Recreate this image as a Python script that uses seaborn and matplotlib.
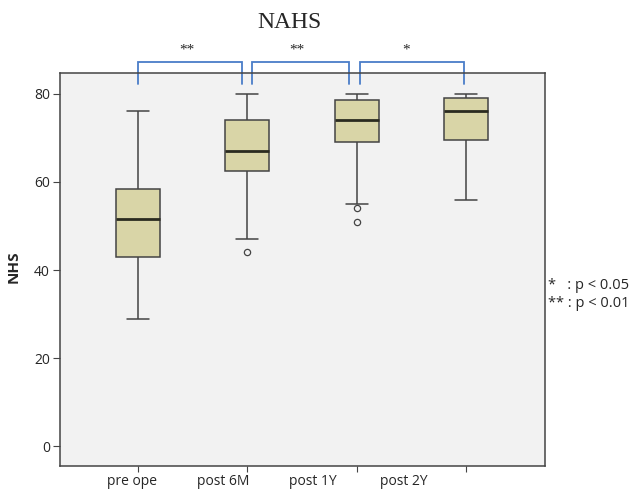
import seaborn as sns
import matplotlib.pyplot as plt
import pandas as pd

# 数据
groups = ["pre ope", "post 6M", "post 1Y", "post 2Y"]
whisker_low = [29, 47, 55, 56]
q1 = [43, 62.5, 69, 69.4]
median = [51.5, 67, 74, 76]
q3 = [58.5, 74, 78.5, 79]
whisker_high = [76, 80, 80, 80]
outliers = [[], [44], [54, 51], []]
y_ticks = [0, 20, 40, 60, 80]
sig_labels = ["**", "**", "*"]

# 由箱线图统计量构造样本
rows = []
for i, g in enumerate(groups):
    vals = outliers[i] + [whisker_low[i]] + [q1[i]] * 10 + [median[i]] * 10 + [q3[i]] * 10 + [whisker_high[i]]
    rows += [(g, v) for v in vals]
df = pd.DataFrame(rows, columns=["group", "NHS"])

box_color = "#d9d5a7"
line_color = "#444444"
bracket_color = "#4a7dc8"

sns.set_style("white")
plt.rcParams['font.family'] = ['Open Sans', 'DejaVu Sans']

fig = plt.figure(figsize=(6.33, 4.93), dpi=100)
ax = fig.add_axes([0.094, 0.055, 0.767, 0.796])
ax.set_facecolor("#f2f2f2")

sns.boxplot(data=df, x="group", y="NHS", order=groups, color=box_color, saturation=1,
            width=0.4, linecolor=line_color, linewidth=1.1, whis=1.5, fliersize=4.5,
            medianprops=dict(color="#2b2b20", linewidth=2),
            flierprops=dict(marker="o", markerfacecolor="none", markeredgecolor=line_color,
                            markeredgewidth=0.9),
            ax=ax)

ax.set_xlim(-0.716, 3.72)
ax.set_ylim(-4.4, 84.6)
ax.set_yticks(y_ticks)
ax.set_yticklabels([str(t) for t in y_ticks], fontsize=10)

# 刻度在箱子中心, 标签向左偏移
ax.set_xticks(range(len(groups)))
ax.set_xticklabels([""] * len(groups))
ax.set_xticks([i * 0.826 - 0.05 for i in range(len(groups))], groups, minor=True)
ax.tick_params(axis="x", which="major", length=4, color=line_color, direction="out", bottom=True)
ax.tick_params(axis="x", which="minor", length=0, labelsize=10, pad=6)
ax.tick_params(axis="y", length=5, color=line_color, direction="out", left=True, pad=2)
ax.set_xlabel("")
ax.set_ylabel("NHS", fontsize=11, fontweight="bold")
ax.yaxis.set_label_coords(-0.081, 0.507)

for spine in ax.spines.values():
    spine.set_edgecolor(line_color)
    spine.set_linewidth(1.1)
    spine.set_visible(True)

# 显著性括号
starts = [0.0, 1.04, 2.03]
ends = [0.95, 1.93, 2.98]
for i, lab in enumerate(sig_labels):
    x0, x1 = starts[i], ends[i]
    ax.plot([x0, x0, x1, x1], [82.3, 87.1, 87.1, 82.3], color=bracket_color, lw=1.3,
            clip_on=False, solid_joinstyle="miter")
    ax.text(i + 0.45, 89.8, lab, ha="center", va="center", fontsize=11,
            family="Liberation Serif", clip_on=False)

fig.text(0.458, 0.954, "NAHS", ha="center", va="center", fontsize=17, family="Liberation Serif")
fig.text(0.866, 0.42, "*   : p < 0.05", ha="left", va="center", fontsize=10.5)
fig.text(0.866, 0.385, "** : p < 0.01", ha="left", va="center", fontsize=10.5)

fig.savefig("out.png", dpi=100)
